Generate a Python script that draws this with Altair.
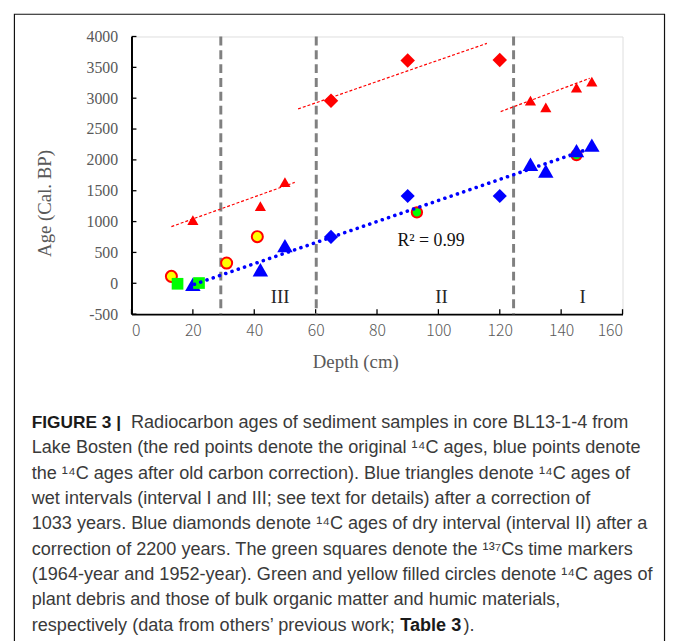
import altair as alt
import pandas as pd

# ---------------- data ----------------
red_tri_depth = [20, 42, 50, 130, 135, 145, 150]
red_tri_age = [1025, 1250, 1640, 2960, 2850, 3170, 3270]
red_dia_depth = [65, 90, 120]
red_dia_age = [2960, 3610, 3620]
blue_tri_depth = [20, 42, 50, 130, 135, 145, 150]
blue_tri_age = [-15, 220, 610, 1930, 1820, 2150, 2240]
blue_dia_depth = [65, 90, 120]
blue_dia_age = [752, 1415, 1415]
yellow_depth = [13, 31, 41]
yellow_age = [112, 328, 756]
green_circ_depth = [93, 145]
green_circ_age = [1150, 2078]
green_sq_depth = [15, 22]
green_sq_age = [-8, 4]

red_fit_seg = ["a", "a", "b", "b", "c", "c"]
red_fit_depth = [13, 53.2, 54.3, 115.8, 120.3, 149.3]
red_fit_age = [918, 1635, 2826, 3889, 2783, 3322]
blue_fit_depth = [20.5, 149.3]
blue_fit_age = [-16, 2184]

boundary_depth = [29.1, 60.2, 124.5]
interval_text = ["III", "II", "I"]
interval_depth = [48.4, 101, 147]
interval_age = [-220, -220, -220]
r2_text = ["R\u00b2 = 0.99"]
r2_depth = [97.6]
r2_age = [690]

x_ticks = [0, 20, 40, 60, 80, 100, 120, 140, 160]
y_ticks = [-500, 0, 500, 1000, 1500, 2000, 2500, 3000, 3500, 4000]

caption_bold = ["FIGURE 3 |", "Table 3"]
caption_lines = [
    "Radiocarbon ages of sediment samples in core BL13-1-4 from",
    "Lake Bosten (the red points denote the original \u00b9\u2074C ages, blue points denote",
    "the \u00b9\u2074C ages after old carbon correction). Blue triangles denote \u00b9\u2074C ages of",
    "wet intervals (interval I and III; see text for details) after a correction of",
    "1033 years. Blue diamonds denote \u00b9\u2074C ages of dry interval (interval II) after a",
    "correction of 2200 years. The green squares denote the \u00b9\u00b3\u2077Cs time markers",
    "(1964-year and 1952-year). Green and yellow filled circles denote \u00b9\u2074C ages of",
    "plant debris and those of bulk organic matter and humic materials,",
    "respectively (data from others\u2019 previous work; ",
]
caption_tail = ")."

# ---------------- layout ----------------
W, H = 497, 281
SERIF = "Liberation Serif"
SANS = "Liberation Sans"

xs = alt.Scale(domain=[0, 160], nice=False, zero=False)
ys = alt.Scale(domain=[-500, 4000], nice=False, zero=False)

x_axis = alt.Axis(values=x_ticks, grid=False, ticks=False, domainColor="black",
                  domainWidth=2, labelFont="Noto Sans CJK SC", labelFontWeight=300,
                  labelFontSize=16, labelColor="#595959", labelPadding=9,
                  labelExpr="'' + datum.value", title=None)
y_axis = alt.Axis(values=y_ticks, grid=False, ticks=False, domainColor="black",
                  domainWidth=2, labelFont=SERIF, labelFontSize=16,
                  labelColor="#595959", labelPadding=14,
                  labelExpr="'' + datum.value", title=None)


def df(**cols):
    return pd.DataFrame(cols)


def X():
    return alt.X("depth:Q", scale=xs, axis=x_axis)


def Y():
    return alt.Y("age:Q", scale=ys, axis=y_axis)


one = pd.DataFrame({"k": [0]})

layers = []

# y ticks (inside)
layers.append(
    alt.Chart(df(age=y_ticks)).mark_rule(color="black", strokeWidth=1.3).encode(
        y=Y(), x=alt.value(0), x2=alt.value(5),
    )
)
# x ticks (inside)
layers.append(
    alt.Chart(df(depth=x_ticks)).mark_rule(color="black", strokeWidth=1.3).encode(
        x=X(), y=alt.value(H), y2=alt.value(H - 5),
    )
)

# vertical interval boundaries
layers.append(
    alt.Chart(df(depth=boundary_depth)).mark_rule(
        color="#808080", strokeWidth=3, strokeDash=[9, 5]
    ).encode(x=X())
)

# markers
layers.append(
    alt.Chart(df(depth=yellow_depth, age=yellow_age)).mark_point(
        shape="circle", filled=True, fill="#FFFF00", stroke="#FF0000",
        strokeWidth=2, size=125, opacity=1).encode(x=X(), y=Y())
)
layers.append(
    alt.Chart(df(depth=green_circ_depth, age=green_circ_age)).mark_point(
        shape="circle", filled=True, fill="#00FF00", stroke="#FF0000",
        strokeWidth=2, size=110, opacity=1).encode(x=X(), y=Y())
)
layers.append(
    alt.Chart(df(depth=red_tri_depth, age=red_tri_age)).mark_point(
        shape="triangle-up", filled=True, color="#FF0000", size=128, opacity=1
    ).encode(x=X(), y=Y())
)
layers.append(
    alt.Chart(df(depth=red_dia_depth, age=red_dia_age)).mark_point(
        shape="diamond", filled=True, color="#FF0000", size=215, opacity=1
    ).encode(x=X(), y=Y())
)
layers.append(
    alt.Chart(df(depth=blue_tri_depth, age=blue_tri_age)).mark_point(
        shape="triangle-up", filled=True, color="#0000FF", size=245, opacity=1
    ).encode(x=X(), y=Y())
)
layers.append(
    alt.Chart(df(depth=blue_dia_depth, age=blue_dia_age)).mark_point(
        shape="diamond", filled=True, color="#0000FF", size=205, opacity=1
    ).encode(x=X(), y=Y())
)
layers.append(
    alt.Chart(df(depth=green_sq_depth, age=green_sq_age)).mark_point(
        shape="square", filled=True, color="#00FF00", size=140, opacity=1
    ).encode(x=X(), y=Y())
)

# trend lines
layers.append(
    alt.Chart(df(seg=red_fit_seg, depth=red_fit_depth, age=red_fit_age)).mark_line(
        color="#FF0000", strokeWidth=1.2, strokeDash=[3, 2]
    ).encode(x=X(), y=Y(), detail="seg:N")
)
layers.append(
    alt.Chart(df(depth=blue_fit_depth, age=blue_fit_age)).mark_line(
        color="#0000FF", strokeWidth=3.6, strokeCap="round", strokeDash=[0.1, 6.6]
    ).encode(x=X(), y=Y())
)

# in-plot annotations
layers.append(
    alt.Chart(df(depth=interval_depth, age=interval_age, t=interval_text)).mark_text(
        font=SERIF, fontSize=19, color="#262626"
    ).encode(x=X(), y=Y(), text="t:N")
)
layers.append(
    alt.Chart(df(depth=r2_depth, age=r2_age, t=r2_text)).mark_text(
        font=SERIF, fontSize=18, color="#111111"
    ).encode(x=X(), y=Y(), text="t:N")
)

# axis titles
layers.append(
    alt.Chart(one).mark_text(font=SERIF, fontSize=19, color="#595959", text="Depth (cm)")
    .encode(x=alt.value(227), y=alt.value(330))
)
layers.append(
    alt.Chart(one).mark_text(font=SERIF, fontSize=19, color="#595959", angle=270,
                             text="Age (Cal. BP)")
    .encode(x=alt.value(-87), y=alt.value(169))
)

# outer frame
layers.append(
    alt.Chart(one).mark_rect(fillOpacity=0, stroke="#111111", strokeWidth=1.2)
    .encode(x=alt.value(-118.5), x2=alt.value(539.5), y=alt.value(-22.5), y2=alt.value(700))
)

# caption
LINE0 = 391
STEP = 25.7
CAP_X = -101
FS = 18.3
for i, line in enumerate(caption_lines):
    xpos = -0.5 if i == 0 else CAP_X
    layers.append(
        alt.Chart(one).mark_text(font=SANS, fontSize=FS, color="#3a3a3a", align="left",
                                 baseline="middle", text=line)
        .encode(x=alt.value(xpos), y=alt.value(LINE0 + STEP * i))
    )
layers.append(
    alt.Chart(one).mark_text(font=SANS, fontSize=17.5, fontWeight="bold", color="#1a1a1a",
                             align="left", baseline="middle", text=caption_bold[0])
    .encode(x=alt.value(CAP_X), y=alt.value(LINE0))
)
layers.append(
    alt.Chart(one).mark_text(font=SANS, fontSize=FS, fontWeight="bold", color="#1a1a1a",
                             align="left", baseline="middle", text=caption_bold[1])
    .encode(x=alt.value(272), y=alt.value(LINE0 + STEP * 8))
)
layers.append(
    alt.Chart(one).mark_text(font=SANS, fontSize=FS, color="#3a3a3a",
                             align="left", baseline="middle", text=caption_tail)
    .encode(x=alt.value(336), y=alt.value(LINE0 + STEP * 8))
)

chart = alt.layer(*layers).properties(
    width=W, height=H,
    autosize=alt.AutoSizeParams(type="none"),
    padding={"left": 125, "top": 25, "right": 44, "bottom": 327},
).configure_view(stroke="#808080", strokeWidth=1.5).configure(background="white")

chart.save("out.html", embed_options={"renderer": "svg", "actions": False})
